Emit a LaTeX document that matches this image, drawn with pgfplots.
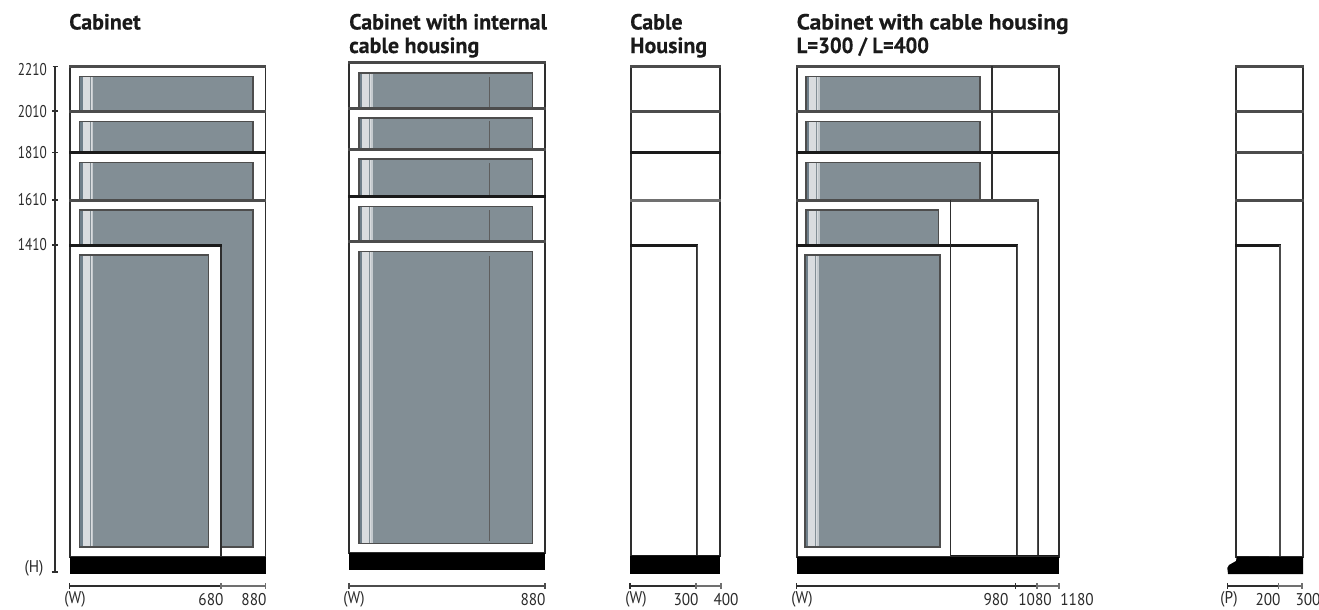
\documentclass[border=0pt]{standalone}
\usepackage{fontspec}
\usepackage{pgfplots}
\pgfplotsset{compat=1.18}
\setmainfont{PT Sans}
\newfontfamily\ttl[FakeStretch=1.0,FakeBold=0.25]{PT Sans Bold}
\newfontfamily\ttlw[FakeStretch=1.07,FakeBold=0.25]{PT Sans Bold}
\newfontfamily\ttln[FakeStretch=0.94,FakeBold=0.25]{PT Sans Bold}
\newfontfamily\lbl[FakeStretch=0.9]{PT Sans}
\newfontfamily\lby[FakeStretch=0.78]{PT Sans}
\definecolor{steel}{HTML}{828E95}
\definecolor{steeld}{HTML}{6F7F8A}
\definecolor{stripe}{HTML}{D9DCDF}
\definecolor{stripem}{HTML}{C4CACE}
\definecolor{frm}{HTML}{2E2E2E}
\definecolor{lg}{HTML}{4C4C4C}
\definecolor{lb}{HTML}{1A1A1A}
\definecolor{txt}{HTML}{2A2A2A}
\newcommand{\rect}[5]{\addplot[#5] coordinates {(#1,#3)(#2,#3)(#2,#4)(#1,#4)} --cycle;}
\newcommand{\seg}[5]{\addplot[#5] coordinates {(#1,#3)(#2,#4)};}
% level: x0 x1 ytop ybot colour of top line
\newcommand{\lvl}[5]{%
  \rect{#1}{#2}{#3}{#4}{fill=white,draw=frm,line width=1.8pt}%
  \pgfmathsetmacro\ya{#3-1.4}\pgfmathsetmacro\yb{#3+1.4}%
  \pgfmathsetmacro\xa{#1-0.9}\pgfmathsetmacro\xb{#2+0.9}%
  \rect{\xa}{\xb}{\ya}{\yb}{fill=#5,draw=none}}
% panel: x0 x1 ytop ybot
\newcommand{\pnl}[4]{%
  \pgfmathsetmacro\sa{#1+3.4}\pgfmathsetmacro\sb{#1+10}\pgfmathsetmacro\sc{#1+11}%
  \pgfmathsetmacro\sd{#1+12}\pgfmathsetmacro\se{#1+13.6}%
  \rect{#1}{#2}{#3}{#4}{fill=steel,draw=none}%
  \rect{#1}{\sa}{#3}{#4}{fill=steeld,draw=none}%
  \rect{\sa}{\sb}{#3}{#4}{fill=stripe,draw=none}%
  \rect{\sb}{\sc}{#3}{#4}{fill=steel,draw=none}%
  \rect{\sc}{\sd}{#3}{#4}{fill=stripe,draw=none}%
  \rect{\sd}{\se}{#3}{#4}{fill=stripem,draw=none}%
  \rect{#1}{#2}{#3}{#4}{draw=frm!85,line width=1.2pt}}
\newcommand{\base}[4]{\rect{#1}{#2}{#3}{#4}{fill=black,draw=none}}
% dimension segment: x0 x1 colour
\newcommand{\dimseg}[3]{%
  \seg{#1}{#2}{586}{586}{draw=#3,line width=1.3pt}%
  \seg{#1}{#1}{583}{589}{draw=#3,line width=1.1pt}%
  \seg{#2}{#2}{583}{589}{draw=#3,line width=1.1pt}}
\newcommand{\xl}[2]{\node[anchor=center,inner sep=0pt,text=txt,font=\lbl\fontsize{17}{17}\selectfont] at (axis cs:#1,599.5) {#2};}
\newcommand{\yl}[2]{\node[anchor=east,inner sep=0pt,text=txt,font=\lby\fontsize{17}{17}\selectfont] at (axis cs:47,#1) {#2};}
\newcommand{\ti}[3]{\node[anchor=base west,inner sep=0pt,text=lb,font=\ttl\fontsize{22}{22}\selectfont] at (axis cs:#1,#2) {#3};}
\begin{document}
\begin{tikzpicture}
\clip (0,0) rectangle (1319pt,610pt);
\begin{axis}[
  scale only axis,width=1319pt,height=610pt,
  xmin=0,xmax=1319,ymin=0,ymax=610,y dir=reverse,
  hide axis,clip=false,
  no marks]
% ---- Panel 1: Cabinet
\lvl{70}{265.5}{66.7}{557}{lg}\pnl{79.5}{253}{76.5}{547}
\lvl{70}{265.5}{111.4}{557}{lg}\pnl{79.5}{253}{121.5}{547}
\lvl{70}{265.5}{152.5}{557}{lb}\pnl{79.5}{253}{162.5}{547}
\lvl{70}{265.5}{200.2}{557}{lg}\pnl{79.5}{253}{210}{547}
\lvl{70}{221}{245.4}{557}{lb}\pnl{79.5}{208.5}{255}{547}
\base{70}{266}{557}{574}
% y scale
\seg{55}{55}{66.5}{572}{draw=frm,line width=1.3pt}
\seg{52.7}{57.5}{66.5}{66.5}{draw=frm,line width=1.1pt}
\seg{52}{57.5}{111}{111}{draw=frm,line width=1.1pt}
\seg{52}{57.5}{152.5}{152.5}{draw=frm,line width=1.1pt}
\seg{52}{57.5}{200}{200}{draw=frm,line width=1.1pt}
\seg{52}{57.5}{245}{245}{draw=frm,line width=1.1pt}
\seg{51.5}{58}{572}{572}{draw=frm,line width=1.3pt}
\dimseg{69.5}{221}{frm}\dimseg{221}{265.5}{lg!80}
% ---- Panel 2: internal housing
\lvl{349}{545}{62.6}{553}{lb!80}\pnl{359}{532.5}{73}{543.5}\seg{489.3}{489.3}{77}{541}{draw=lg!90,line width=1.1pt}
\lvl{349}{545}{108.4}{553}{lg}\pnl{359}{532.5}{118}{543.5}\seg{489.3}{489.3}{121}{541}{draw=lg!90,line width=1.1pt}
\lvl{349}{545}{149.4}{553}{lg}\pnl{359}{532.5}{159}{543.5}\seg{489.3}{489.3}{163}{541}{draw=lg!90,line width=1.1pt}
\lvl{349}{545}{196.6}{553}{lb}\pnl{359}{532.5}{206.5}{543.5}\seg{489.3}{489.3}{210}{541}{draw=lg!90,line width=1.1pt}
\lvl{349}{545}{241.6}{553}{lg}\pnl{359}{532.5}{251.5}{543.5}\seg{489.3}{489.3}{256}{541}{draw=lg!90,line width=1.1pt}
\base{349}{545}{553}{570}
\dimseg{349}{545}{lg}
% ---- Panel 3: cable housing
\lvl{631}{720}{66.7}{556}{lg}
\lvl{631}{720}{111.4}{556}{lg}
\lvl{631}{720}{152.5}{556}{lb}
\lvl{631}{720}{200.2}{556}{lg!80}
\lvl{631}{697.3}{245.4}{556}{lb}
\seg{697.3}{697.3}{245}{556}{draw=lg,line width=1.5pt}
\seg{631}{720}{555.5}{555.5}{draw=lb,line width=2pt}
\base{630}{720}{556}{574}
\dimseg{630}{696}{frm}\dimseg{696}{721}{lg!80}
% ---- Panel 4: cabinet with housing
\lvl{797}{1059}{66.7}{557}{lg}\pnl{806}{980}{76.5}{547}\seg{992}{992}{66.5}{200}{draw=frm,line width=1.6pt}
\lvl{797}{1059}{111.4}{557}{lg}\pnl{806}{980}{121.5}{547}\seg{992}{992}{111.4}{200}{draw=frm,line width=1.6pt}
\lvl{797}{1059}{152.5}{557}{lb}\pnl{806}{980}{162.5}{547}\seg{992}{992}{152.5}{200}{draw=frm,line width=1.6pt}
\lvl{797}{1037.7}{200.2}{557}{lg}\pnl{806}{938.7}{210}{547}
\seg{1037.7}{1037.7}{200}{556}{draw=lg,line width=1.5pt}
\lvl{797}{1017.3}{245.4}{557}{lb}\pnl{805}{940}{255}{547}
\seg{1017.3}{1017.3}{245}{556}{draw=lg,line width=1.5pt}
\seg{950.5}{950.5}{200}{556}{draw=frm,line width=1.7pt}
\seg{950.5}{1059}{555.5}{555.5}{draw=lb,line width=1.6pt}
\base{796.5}{1059}{557}{574}
\dimseg{796.5}{1015.5}{frm}\dimseg{1015.5}{1037}{frm}\dimseg{1037}{1059}{lg!80}
% ---- Panel 5: side view
\lvl{1236}{1303}{66.7}{557}{lg}
\lvl{1236}{1303}{111.7}{557}{lg}
\lvl{1236}{1303}{152.5}{557}{lg}
\lvl{1236}{1303}{200.2}{557}{lg}
\lvl{1236}{1280}{245.4}{557}{lb}
\seg{1280}{1280}{245}{556}{draw=lg,line width=1.5pt}
\addplot[fill=black,draw=none] coordinates {(1236.7,556.5)(1303,557)(1303,574)(1228,574)(1227.3,568)(1229,565)(1236,561)} --cycle;
\dimseg{1227.5}{1278.5}{frm}\dimseg{1278.5}{1302}{lg!80}
% ---- text
\ti{69}{29.5}{Cabinet}{}
\ti{349}{29.5}{Cabinet with internal}{}
\ti{349}{53}{cable housing}{}
\ti{630}{29.5}{Cable}{}
\ti{630}{53}{Housing}{}
\ti{796.5}{29.5}{\ttlw Cabinet with cable housing}{}
\ti{796.5}{53}{\ttln L=300 / L=400}{}
\yl{70}{2210}\yl{111.5}{2010}\yl{153}{1810}\yl{200}{1610}\yl{245}{1410}
\node[anchor=center,inner sep=0pt,text=txt,font=\lbl\fontsize{17}{17}\selectfont] at (axis cs:34,568) {(H)};
\xl{75}{(W)}\xl{211}{680}\xl{254}{880}
\xl{354}{(W)}\xl{533}{880}
\xl{636}{(W)}\xl{686}{300}\xl{726}{400}
\xl{802}{(W)}\xl{996}{980}\xl{1035}{1080}\xl{1077}{1180}
\xl{1229}{(P)}\xl{1268}{200}\xl{1308}{300}
\end{axis}
\end{tikzpicture}
\end{document}
